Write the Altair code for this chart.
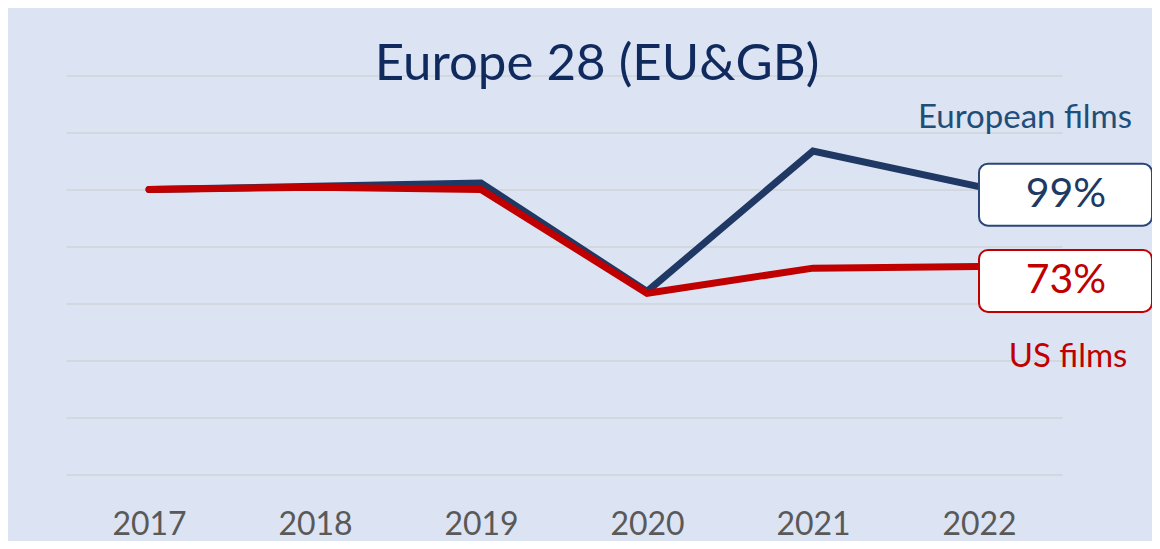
import altair as alt
import pandas as pd

years = [2017, 2018, 2019, 2020, 2021, 2022]
european = [100, 101.1, 102.3, 64.2, 113.5, 101.0]
us = [100, 100.8, 100, 63.6, 72.4, 73.0]
series_names = ["European films", "US films"]
change_labels = ["99%", "73%"]

NAVY = "#203864"
RED = "#c00000"
FONT = "Lato"

rows = []
for y, e, u in zip(years, european, us):
    rows.append({"year": y, "value": e, "series": series_names[0]})
    rows.append({"year": y, "value": u, "series": series_names[1]})
df = pd.DataFrame(rows)

last_eu = pd.DataFrame([{"year": years[-1], "value": european[-1], "label": change_labels[0], "name": series_names[0]}])
last_us = pd.DataFrame([{"year": years[-1], "value": us[-1], "label": change_labels[1], "name": series_names[1]}])

x_enc = alt.X("year:Q", scale=alt.Scale(domain=[2016.5, 2022.5], nice=False, zero=False),
              axis=alt.Axis(values=years, format="d", title=None, ticks=False, domain=False, grid=False,
                            labelFont=FONT, labelFontSize=32, labelColor="#595959", labelPadding=35))
y_enc = alt.Y("value:Q", scale=alt.Scale(domain=[0, 140], nice=False),
              axis=alt.Axis(values=[0, 20, 40, 60, 80, 100, 120, 140], title=None, labels=False, ticks=False,
                            domain=False, grid=True, gridColor="#d3d7de", gridWidth=2))

base = alt.Chart(df)
eu_line = base.transform_filter(alt.datum.series == series_names[0]).mark_line(
    color=NAVY, strokeWidth=7, strokeCap="round").encode(x=x_enc, y=y_enc)
us_line = base.transform_filter(alt.datum.series == series_names[1]).mark_line(
    color=RED, strokeWidth=7, strokeCap="round").encode(x="year:Q", y="value:Q")

def box(df_last, color, y_off, y2_off):
    return alt.Chart(df_last).mark_rect(
        fill="white", stroke=color, strokeWidth=2, cornerRadius=9,
        xOffset=0, x2Offset=173, yOffset=y_off, y2Offset=y2_off
    ).encode(x="year:Q", x2="year:Q", y="value:Q", y2="value:Q")

def pct(df_last, color, dy):
    return alt.Chart(df_last).mark_text(
        font=FONT, fontSize=41, color=color, align="center", baseline="middle", dx=87, dy=dy
    ).encode(x="year:Q", y="value:Q", text="label:N")

def name(df_last, color, dx, dy):
    return alt.Chart(df_last).mark_text(
        font=FONT, fontSize=33, color=color, align="center", baseline="alphabetic", dx=dx, dy=dy
    ).encode(x="year:Q", y="value:Q", text="name:N")

chart = alt.layer(
    eu_line, us_line,
    box(last_eu, "#2b4677", -23, 39),
    box(last_us, RED, -16.5, 45.5),
    pct(last_eu, NAVY, 8),
    pct(last_us, RED, 14.5),
    name(last_eu, "#1f4e79", 46, -59),
    name(last_us, RED, 89, 101),
).properties(
    width=996, height=399,
    padding={"left": 58, "top": 67.5, "right": 90, "bottom": 66.5},
    autosize=alt.AutoSizeParams(type="none"),
    background="#dce3f2",
    title=alt.TitleParams("Europe 28 (EU&GB)", font=FONT, fontSize=51, fontWeight="normal",
                          color="#112a5e", anchor="middle", baseline="alphabetic", offset=-6, dx=33, dy=49),
).configure_view(stroke=None)

chart.save("out.html", embed_options={"renderer": "svg", "actions": False})
